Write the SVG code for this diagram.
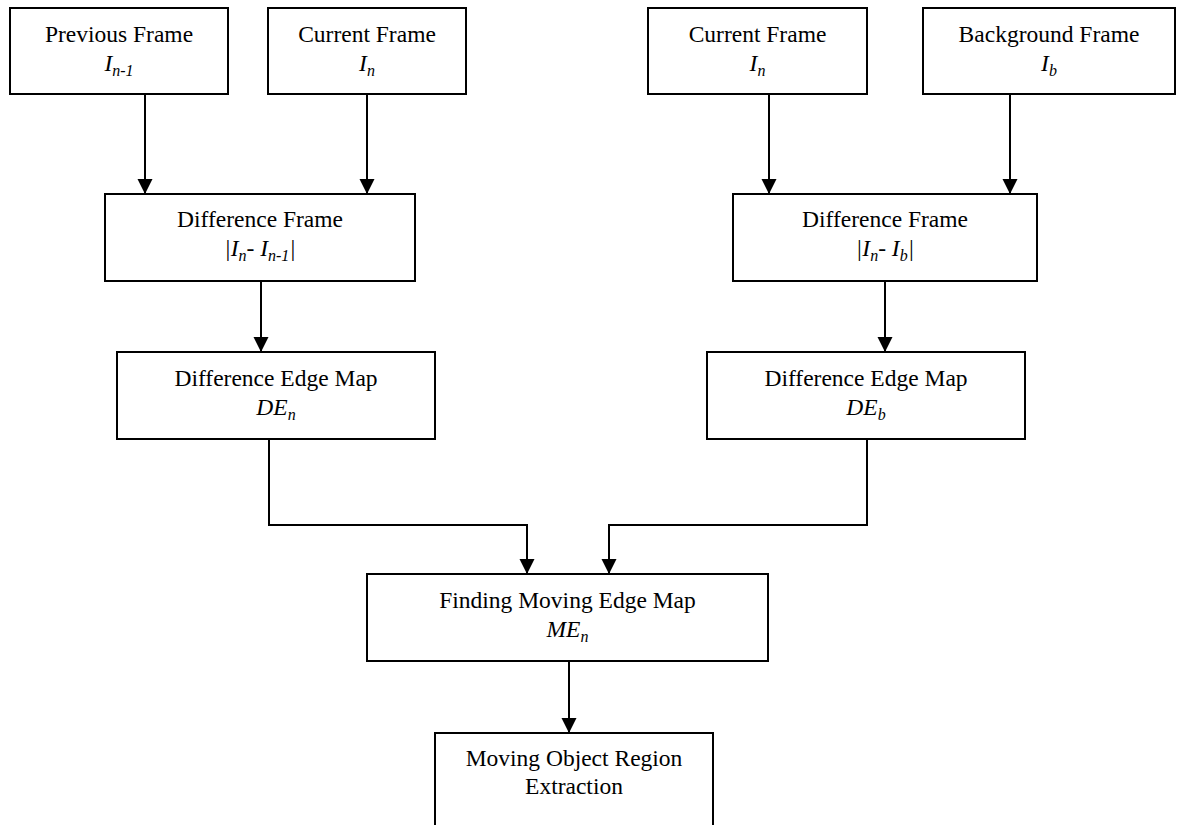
<svg xmlns="http://www.w3.org/2000/svg" width="1177" height="825" viewBox="0 0 1177 825">
<style>
.box{fill:#fff;stroke:#000;stroke-width:2}
.t{font-family:"Liberation Serif","Times New Roman",serif;font-size:23.5px;fill:#000;text-anchor:middle}
.i{font-style:italic}
.s{font-size:16px}
.c{fill:none;stroke:#000;stroke-width:2}
</style>
<defs>
<marker id="ah" markerUnits="userSpaceOnUse" markerWidth="16" markerHeight="16" refX="15" refY="7.5" orient="auto">
<path d="M0,0 L15,7.5 L0,15 z" fill="#000"/>
</marker>
</defs>
<rect width="1177" height="825" fill="#fff"/>
<g id="connectors">
<path class="c" marker-end="url(#ah)" d="M145,94 V194"/>
<path class="c" marker-end="url(#ah)" d="M367,94 V194"/>
<path class="c" marker-end="url(#ah)" d="M769,94 V194"/>
<path class="c" marker-end="url(#ah)" d="M1010,94 V194"/>
<path class="c" marker-end="url(#ah)" d="M261,281 V352"/>
<path class="c" marker-end="url(#ah)" d="M885,281 V352"/>
<path class="c" marker-end="url(#ah)" d="M269,439 V525 H527 V574"/>
<path class="c" marker-end="url(#ah)" d="M867,439 V525 H609 V574"/>
<path class="c" marker-end="url(#ah)" d="M569,661 V733"/>
</g>
<g id="prev-frame">
<rect class="box" x="10" y="8" width="218" height="86"/>
<text class="t" x="119" y="42">Previous Frame</text>
<text class="t i" x="119" y="71">I<tspan class="s" dy="5">n-1</tspan></text>
</g>
<g id="curr-frame-1">
<rect class="box" x="268" y="8" width="198" height="86"/>
<text class="t" x="367" y="42">Current Frame</text>
<text class="t i" x="367" y="71">I<tspan class="s" dy="5">n</tspan></text>
</g>
<g id="curr-frame-2">
<rect class="box" x="648" y="8" width="219" height="86"/>
<text class="t" x="757.5" y="42">Current Frame</text>
<text class="t i" x="757.5" y="71">I<tspan class="s" dy="5">n</tspan></text>
</g>
<g id="bg-frame">
<rect class="box" x="923" y="8" width="252" height="86"/>
<text class="t" x="1049" y="42">Background Frame</text>
<text class="t i" x="1049" y="71">I<tspan class="s" dy="5">b</tspan></text>
</g>
<g id="diff-frame-1">
<rect class="box" x="105" y="194" width="310" height="87"/>
<text class="t" x="260" y="227">Difference Frame</text>
<text class="t i" x="260" y="256">|I<tspan class="s" dy="5">n</tspan><tspan dy="-5">- I</tspan><tspan class="s" dy="5">n-1</tspan><tspan dy="-5">|</tspan></text>
</g>
<g id="diff-frame-2">
<rect class="box" x="733" y="194" width="304" height="87"/>
<text class="t" x="885" y="227">Difference Frame</text>
<text class="t i" x="885" y="256">|I<tspan class="s" dy="5">n</tspan><tspan dy="-5">- I</tspan><tspan class="s" dy="5">b</tspan><tspan dy="-5">|</tspan></text>
</g>
<g id="diff-edge-1">
<rect class="box" x="117" y="352" width="318" height="87"/>
<text class="t" x="276" y="386">Difference Edge Map</text>
<text class="t i" x="276" y="415">DE<tspan class="s" dy="5">n</tspan></text>
</g>
<g id="diff-edge-2">
<rect class="box" x="707" y="352" width="318" height="87"/>
<text class="t" x="866" y="386">Difference Edge Map</text>
<text class="t i" x="866" y="415">DE<tspan class="s" dy="5">b</tspan></text>
</g>
<g id="moving-edge">
<rect class="box" x="367" y="574" width="401" height="87"/>
<text class="t" x="567.5" y="608">Finding Moving Edge Map</text>
<text class="t i" x="567.5" y="637">ME<tspan class="s" dy="5">n</tspan></text>
</g>
<g id="extraction">
<rect class="box" x="435" y="733" width="278" height="110"/>
<text class="t" x="574" y="766">Moving Object Region</text>
<text class="t" x="574" y="794">Extraction</text>
</g>
</svg>
